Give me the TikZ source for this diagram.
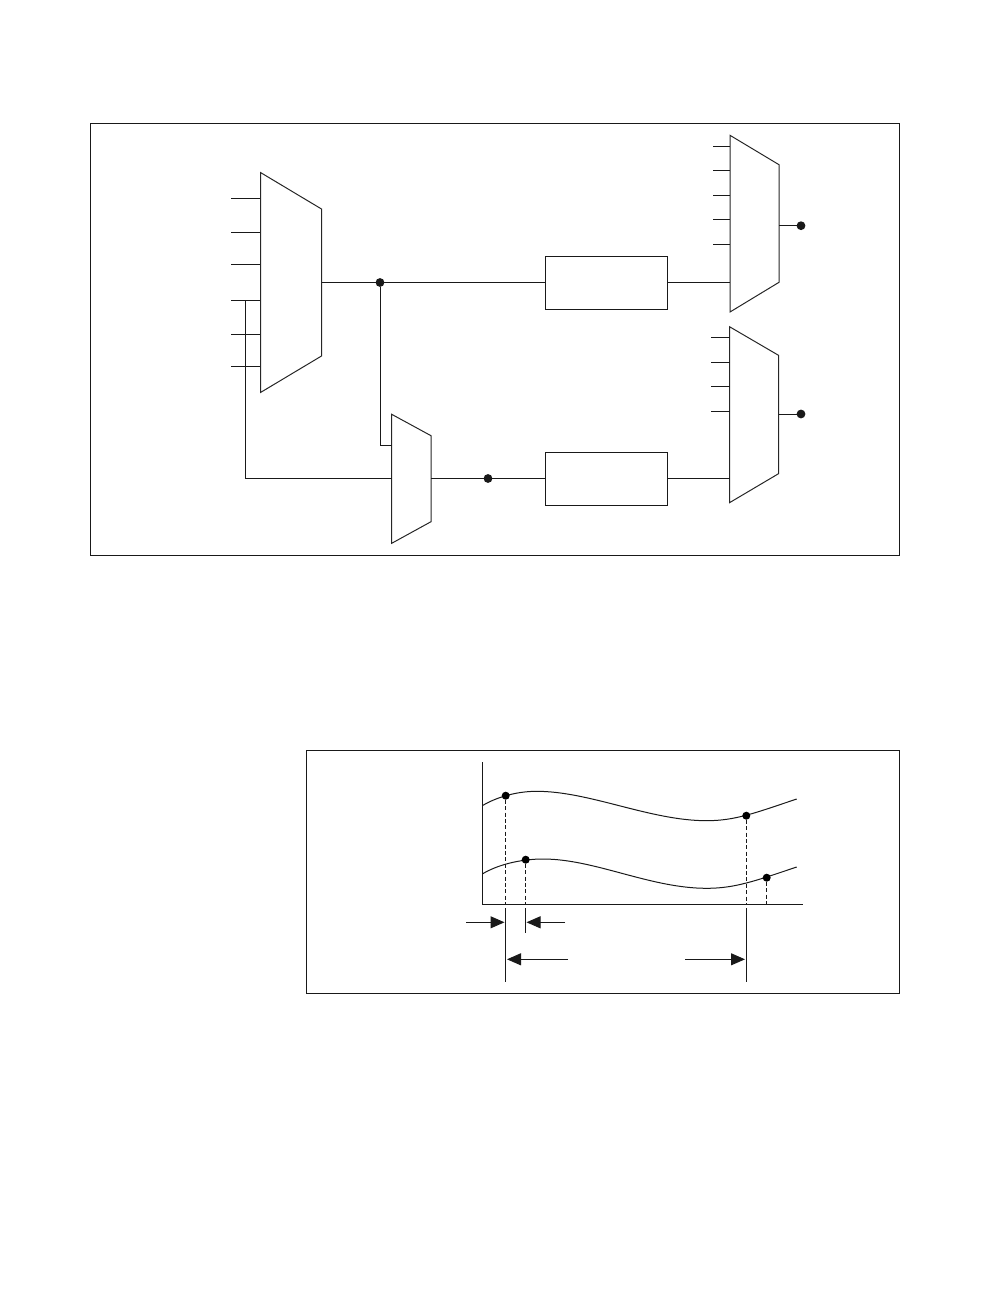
\documentclass[tikz,border=0pt]{standalone}
\usetikzlibrary{arrows.meta}
\tikzset{
  wire/.style={line width=1pt,black!90},
  frame/.style={line width=0.9pt,black!90},
  mux/.style={line width=1pt,black!85,line join=miter},
  blockbox/.style={draw=black!90,line width=1pt,fill=white,minimum width=122pt,minimum height=53.5pt,inner sep=0pt,outer sep=0pt},
  junction/.style={circle,fill=black!90,draw=none,minimum size=8.8pt,inner sep=0pt,outer sep=0pt},
  sample/.style={circle,fill=black,draw=none,minimum size=8pt,inner sep=0pt,outer sep=0pt},
  guide/.style={line width=0.9pt,dash pattern=on 4pt off 2.4pt,black!90},
  tick/.style={line width=1pt,black!90},
  dim/.style={line width=1pt,black!90,-{Triangle[length=14pt,width=12pt]}}
}
\begin{document}
\begin{tikzpicture}[x=1pt,y=-1pt]
\useasboundingbox (0,0) rectangle (1008,1296);
% frames
\draw[frame] (90.5,123.5) rectangle (899.5,555);
\draw[frame] (306,750) rectangle (899.5,993);
% big mux
\coordinate (mA) at (260.5,282.5);
\coordinate (mAout) at (321.5,282.5);
\coordinate (i1) at (231,198.3); \coordinate (i1e) at (260.5,198.3);
\coordinate (i2) at (231,232.3); \coordinate (i2e) at (260.5,232.3);
\coordinate (i3) at (231,264.3); \coordinate (i3e) at (260.5,264.3);
\coordinate (i4) at (231,300.3); \coordinate (i4e) at (260.5,300.3);
\coordinate (i5) at (231,334.3); \coordinate (i5e) at (260.5,334.3);
\coordinate (i6) at (231,366.3); \coordinate (i6e) at (260.5,366.3);
\coordinate (tap) at (245.5,300.3);
\foreach \n in {1,...,6} \draw[wire] (i\n) -- (i\n e);
\draw[mux] (260.5,172.5) -- (321.5,209) -- (321.5,356) -- (260.5,392.5) -- cycle;
% small mux
\coordinate (mBa) at (391.7,445.7);
\coordinate (mBb) at (391.7,478.5);
\coordinate (mBout) at (431,478.5);
\draw[mux] (391.7,414.3) -- (431,435.7) -- (431,521.7) -- (391.7,543.3) -- cycle;
% blocks
\node[blockbox] (b1) at (606.5,282.75) {};
\node[blockbox] (b2) at (606.5,478.75) {};
% right muxes
\draw[mux] (730,135.3) -- (779,164.7) -- (779,282.3) -- (730,312) -- cycle;
\draw[mux] (729.5,326.7) -- (778.5,355.3) -- (778.5,473.7) -- (729.5,502.7) -- cycle;
\coordinate (mCin) at (730,282.5);
\coordinate (mDin) at (729.5,478.5);
\coordinate (mCout) at (779,225.7);
\coordinate (mDout) at (778.5,414);
\foreach \y in {146.3,170.3,195.3,219.3,244.3} \draw[wire] (713,\y) -- (730,\y);
\foreach \y in {337.7,362,386.7,411} \draw[wire] (711,\y) -- (729.5,\y);
% dots
\node[junction] (j1) at (380,282.5) {};
\node[junction] (j2) at (488,478.5) {};
\node[junction] (o1) at (801,225.7) {};
\node[junction] (o2) at (801,414) {};
% connectors
\draw[wire] (mAout) -- (j1) -- (b1.west |- j1);
\draw[wire] (j1) |- (mBa);
\draw[wire] (tap) |- (mBb);
\draw[wire] (mBout) -- (j2) -- (b2.west |- j2);
\draw[wire] (b1.east |- mCin) -- (mCin);
\draw[wire] (b2.east |- mDin) -- (mDin);
\draw[wire] (mCout) -- (o1);
\draw[wire] (mDout) -- (o2);
% timing axes
\coordinate (org) at (482.5,904.5);
\draw[wire] (482.5,762) -- (org) -- (803,904.5);
% curves
\draw[wire] (482.3,805.7) .. controls (495,798) and (515,791.3) .. (536.7,791.3)
  .. controls (590,791.3) and (650,820.7) .. (706.7,820.7)
  .. controls (735,820.7) and (755,813) .. (796.7,799);
\draw[wire] (482.3,874) .. controls (497,865) and (520,859) .. (543,859)
  .. controls (595,859) and (650,888.3) .. (706.7,888.3)
  .. controls (735,888.3) and (755,881) .. (796.7,867);
\node[sample] (s1) at (505.7,795.7) {};
\node[sample] (s2) at (525.7,859.7) {};
\node[sample] (s3) at (746.3,815.7) {};
\node[sample] (s4) at (766.7,877.7) {};
\draw[guide] (s1) -- (s1 |- org);
\draw[guide] (s2) -- (s2 |- org);
\draw[guide] (s3) -- (s3 |- org);
\draw[guide] (s4) -- (s4 |- org);
% extension lines
\coordinate (e1t) at (505.5,908); \coordinate (e1b) at (505.5,982);
\coordinate (e2t) at (525.5,908); \coordinate (e2b) at (525.5,932.7);
\coordinate (e3t) at (746.3,908); \coordinate (e3b) at (746.3,982);
\draw[tick] (e1t) -- (e1b);
\draw[tick] (e2t) -- (e2b);
\draw[tick] (e3t) -- (e3b);
% dimension arrows
\coordinate (a1) at (466,922.3); \coordinate (a1e) at (504.5,922.3);
\coordinate (a2) at (565,922.3); \coordinate (a2e) at (526.5,922.3);
\coordinate (a3) at (568,959.3); \coordinate (a3e) at (507,959.3);
\coordinate (a4) at (685,959.3); \coordinate (a4e) at (745,959.3);
\draw[dim] (a1) -- (a1e);
\draw[dim] (a2) -- (a2e);
\draw[dim] (a3) -- (a3e);
\draw[dim] (a4) -- (a4e);
\end{tikzpicture}
\end{document}
